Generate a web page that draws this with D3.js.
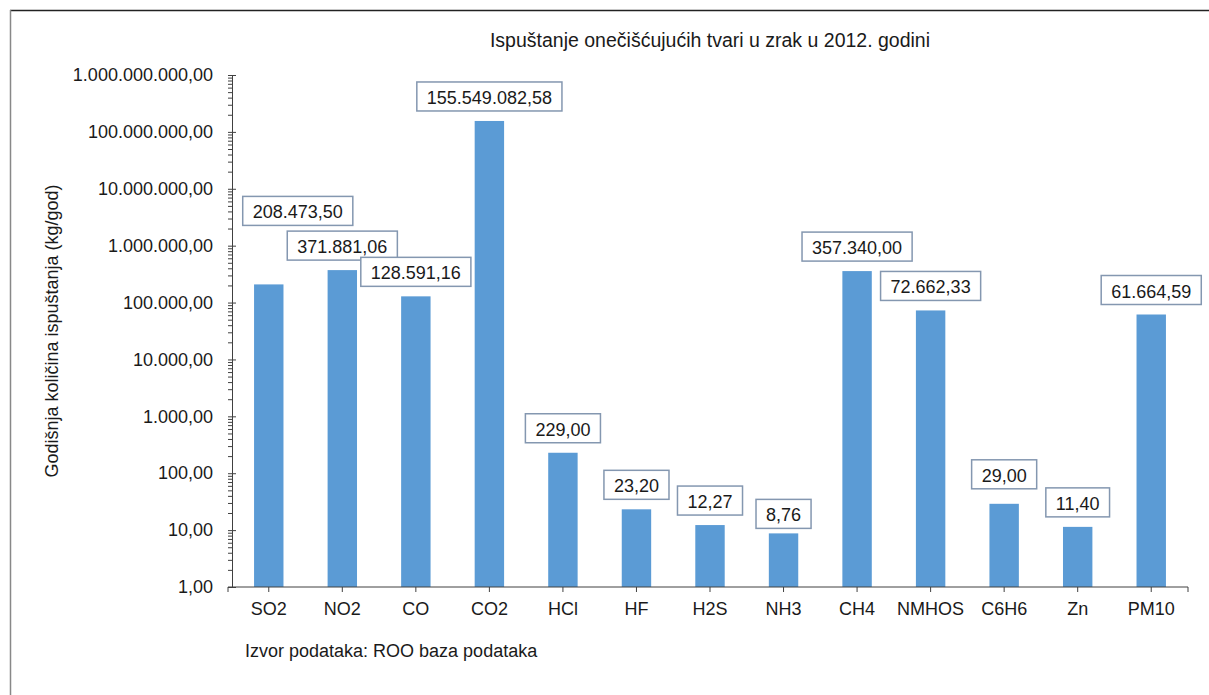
<!DOCTYPE html>
<html>
<head>
<meta charset="utf-8">
<script src="https://cdn.jsdelivr.net/npm/d3@7"></script>
<style>
  body { margin: 0; background: #fff; }
  svg text { font-family: 'Liberation Sans', Arial, sans-serif; fill: #1a1a1a; }
  .axis path, .axis line { stroke: #404040; }
</style>
</head>
<body>
<svg class="chart"></svg>
<script>
// Data
const categories = ['SO2', 'NO2', 'CO', 'CO2', 'HCl', 'HF', 'H2S', 'NH3', 'CH4', 'NMHOS', 'C6H6', 'Zn', 'PM10'];
const values = [208473.50, 371881.06, 128591.16, 155549082.58, 229.00, 23.20, 12.27, 8.76, 357340.00, 72662.33, 29.00, 11.40, 61664.59];
const yTicks = [1, 10, 100, 1000, 1e4, 1e5, 1e6, 1e7, 1e8, 1e9];

const title = 'Ispuštanje onečišćujućih tvari u zrak u 2012. godini';
const yTitle = 'Godišnja količina ispuštanja (kg/god)';
const source = 'Izvor podataka: ROO baza podataka';

// manual label nudges (as placed in the original)
const labelNudge = { SO2: [29, -49], NH3: [0, 5], C6H6: [0, -5] };

const width = 1209;
const height = 695;
const margin = { top: 75, right: 21, bottom: 108, left: 232 };

const hr = d3.formatLocale({ decimal: ',', thousands: '.', grouping: [3], currency: ['', ''] });
const fmt = hr.format(',.2f');

const svg = d3.select('.chart').attr('width', width).attr('height', height);

// outer frame (only top and left edges are in view)
svg.append('line').attr('x1', 10).attr('x2', width).attr('y1', 10.5).attr('y2', 10.5)
  .attr('stroke', '#222').attr('stroke-width', 1.5);
svg.append('line').attr('x1', 10.5).attr('x2', 10.5).attr('y1', 10).attr('y2', height)
  .attr('stroke', '#888').attr('stroke-width', 1.5);

let x = d3.scaleBand()
  .domain(categories)
  .range([margin.left, width - margin.right])
  .paddingInner(0.6)
  .paddingOuter(0.3);

let y = d3.scaleLog()
  .domain([1, 1e9])
  .range([height - margin.bottom, margin.top]);

// minor ticks 2..9 in each decade
let minor = [];
yTicks.slice(0, -1).forEach((t) => {
  for (let k = 2; k < 10; k++) minor.push(t * k);
});

svg.append('g')
  .classed('axis', true)
  .attr('transform', `translate(${margin.left},0)`)
  .call(d3.axisLeft(y).tickValues(minor).tickFormat('').tickSize(4).tickSizeOuter(0))
  .call((g) => g.select('.domain').remove());

let yAxis = svg.append('g')
  .classed('axis', true)
  .attr('transform', `translate(${margin.left},0)`)
  .call(d3.axisLeft(y).tickValues(yTicks).tickFormat(fmt).tickSize(4).tickSizeOuter(0).tickPadding(15));
yAxis.selectAll('.tick line').attr('x2', 4).attr('x1', -4);
yAxis.selectAll('.tick text').style('font-size', '18px').attr('fill', '#1a1a1a');

// bars
svg.selectAll('.bar')
  .data(categories)
  .enter()
  .append('rect')
  .classed('bar', true)
  .attr('x', (d) => x(d))
  .attr('width', x.bandwidth())
  .attr('y', (d, i) => y(values[i]))
  .attr('height', (d, i) => y(1) - y(values[i]))
  .attr('fill', '#5b9bd5');

// x axis
let xAxis = svg.append('g')
  .classed('axis', true)
  .attr('transform', `translate(0,${height - margin.bottom})`)
  .call(d3.axisBottom(x).tickSize(5).tickSizeOuter(5).tickPadding(10));
xAxis.selectAll('.tick text').style('font-size', '18px').attr('fill', '#1a1a1a');
xAxis.select('.domain').attr('d', `M${margin.left - 4},5V0H${width - margin.right}V5`);

// data labels
let labels = svg.selectAll('.lbl')
  .data(categories)
  .enter()
  .append('g')
  .classed('lbl', true);

labels.each(function (d, i) {
  let g = d3.select(this);
  let nudge = labelNudge[d] || [0, 0];
  let cx = x(d) + x.bandwidth() / 2 + nudge[0];
  let bottom = y(values[i]) - 10 + nudge[1];
  let t = g.append('text')
    .attr('x', cx)
    .attr('y', bottom - 7)
    .attr('text-anchor', 'middle')
    .style('font-size', '18px')
    .text(fmt(values[i]));
  let w = t.node().getComputedTextLength() + 20;
  g.insert('rect', 'text')
    .attr('x', cx - w / 2)
    .attr('y', bottom - 29)
    .attr('width', w)
    .attr('height', 29)
    .attr('fill', '#fff')
    .attr('stroke', '#8497b0')
    .attr('stroke-width', 1.5);
});

// titles
svg.append('text')
  .attr('x', (margin.left + width - margin.right) / 2)
  .attr('y', 47)
  .attr('text-anchor', 'middle')
  .style('font-size', '19.5px')
  .text(title);

svg.append('text')
  .attr('transform', `translate(58,${(margin.top + height - margin.bottom) / 2}) rotate(-90)`)
  .attr('text-anchor', 'middle')
  .style('font-size', '18px')
  .text(yTitle);

svg.append('text')
  .attr('x', 245)
  .attr('y', 657)
  .style('font-size', '18px')
  .text(source);
</script>
</body>
</html>
